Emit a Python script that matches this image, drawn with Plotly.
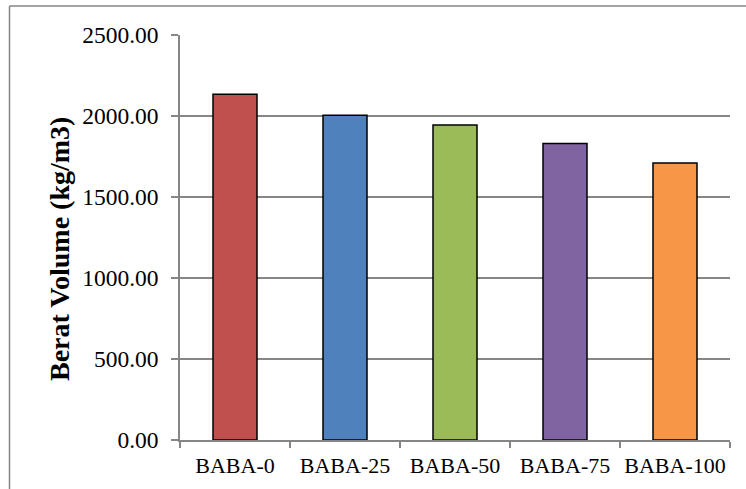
import plotly.graph_objects as go

categories = ["BABA-0", "BABA-25", "BABA-50", "BABA-75", "BABA-100"]
berat_volume = [2135, 2005, 1945, 1830, 1710]
bar_colors = ["#C0504D", "#4F81BD", "#9BBB59", "#8064A2", "#F79646"]
y_ticks = [0, 500, 1000, 1500, 2000, 2500]
y_title = "Berat Volume (kg/m3)"

W, H = 746, 489
L, R, T, B = 180, 16, 35, 49

fig = go.Figure(
    go.Bar(
        x=categories,
        y=berat_volume,
        marker=dict(color=bar_colors, line=dict(color="#000000", width=1.5)),
        width=0.4,
    )
)

axis_grey = "#868686"
font_family = "Liberation Serif, Times New Roman, serif"

fig.update_layout(
    width=W,
    height=H,
    margin=dict(l=L, r=R, t=T, b=B, autoexpand=False),
    paper_bgcolor="white",
    plot_bgcolor="white",
    showlegend=False,
    font=dict(family=font_family, size=22, color="#000000"),
    xaxis=dict(
        showline=True,
        linecolor=axis_grey,
        linewidth=1.5,
        ticks="outside",
        tickson="boundaries",
        ticklen=6,
        tickcolor=axis_grey,
        tickwidth=1.5,
        showgrid=False,
        tickangle=0,
        automargin=False,
        ticklabelstandoff=5,
        tickfont=dict(size=22),
    ),
    yaxis=dict(
        range=[0, 2500],
        tickvals=y_ticks,
        tickformat=".2f",
        showline=True,
        linecolor=axis_grey,
        linewidth=1.5,
        ticks="outside",
        ticklen=7,
        tickcolor=axis_grey,
        tickwidth=1.5,
        showgrid=True,
        gridcolor=axis_grey,
        gridwidth=1.5,
        zeroline=False,
        automargin=False,
        ticklabelstandoff=8,
        tickfont=dict(size=23.5),
    ),
)

pw = W - L - R
ph = H - T - B
def px_to_paper_x(px):
    return (px - L) / pw
def px_to_paper_y(py):
    return (H - B - py) / ph

# rotated y-axis title
fig.add_annotation(
    text=f"<b>{y_title}</b>",
    xref="paper", yref="paper",
    x=px_to_paper_x(60), y=px_to_paper_y(249),
    xanchor="center", yanchor="middle",
    textangle=-90, showarrow=False,
    font=dict(family=font_family, size=28, color="#000000"),
)

# outer chart frame (left and top edges visible within the canvas)
frame_left = px_to_paper_x(9.5)
frame_top = px_to_paper_y(6)
frame_right = px_to_paper_x(W + 5)
frame_bottom = px_to_paper_y(H + 5)
fig.add_shape(type="line", xref="paper", yref="paper",
              x0=frame_left, x1=frame_left, y0=frame_bottom, y1=frame_top,
              line=dict(color=axis_grey, width=1.5))
fig.add_shape(type="line", xref="paper", yref="paper",
              x0=frame_left, x1=frame_right, y0=frame_top, y1=frame_top,
              line=dict(color=axis_grey, width=1.5))

fig.write_html("out.html")
